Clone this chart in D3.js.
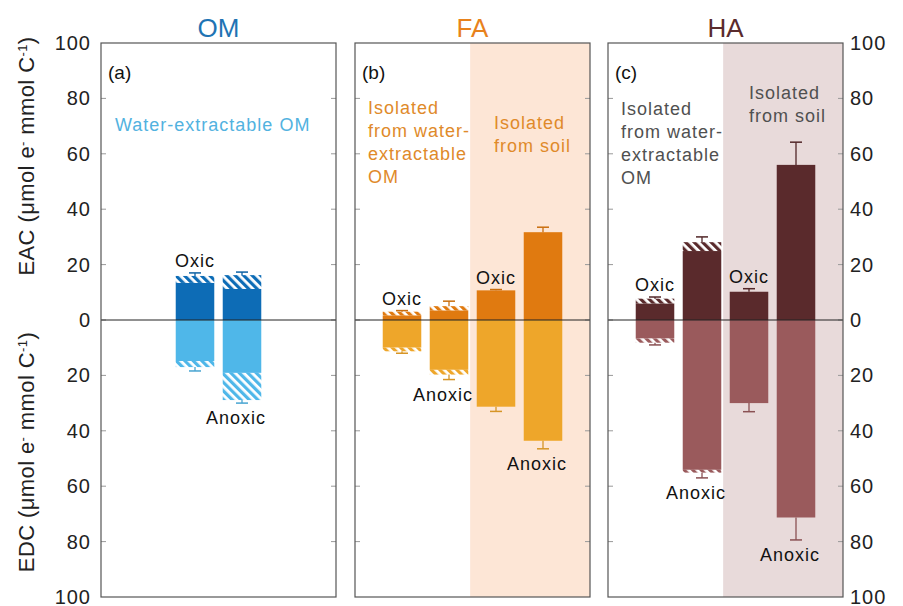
<!DOCTYPE html>
<html lang="en">
<head>
<meta charset="utf-8">
<title>EAC / EDC of OM, FA and HA</title>
<script src="https://d3js.org/d3.v7.min.js"></script>
<style>
  body { margin: 0; background: #fff; }
  text { font-family: "Liberation Sans", Arial, sans-serif; }
</style>
</head>
<body>
<script>
// DATA
var panelNames = ["OM", "FA", "HA"];
var panelTags = ["(a)", "(b)", "(c)"];
var yTicks = [-100, -80, -60, -40, -20, 0, 20, 40, 60, 80, 100];

// one entry per bar
var barPanel = [0, 0, 1, 1, 1, 1, 2, 2, 2, 2];
var barSlot  = [2, 3, 1, 2, 3, 4, 1, 2, 3, 4];
var barLabel = ["Oxic", "Anoxic", "Oxic", "Anoxic", "Oxic", "Anoxic", "Oxic", "Anoxic", "Oxic", "Anoxic"];
var eacTotal = [15.9, 16.2, 3.0, 5.0, 10.7, 31.7, 7.7, 28.1, 10.2, 56.0];
var eacSolid = [13.4, 11.2, 1.7, 3.5, 10.7, 31.7, 6.0, 24.9, 10.2, 56.0];
var eacErr   = [17.0, 17.3, 3.4, 6.8, 11.0, 33.5, 8.3, 30.0, 11.3, 64.2];
var edcTotal = [17.0, 28.9, 11.3, 19.7, 31.3, 43.6, 8.2, 55.1, 30.0, 71.3];
var edcSolid = [14.8, 19.1, 10.0, 18.0, 31.3, 43.6, 6.7, 54.1, 30.0, 71.3];
var edcErr   = [18.4, 30.0, 12.0, 21.5, 33.0, 46.5, 9.0, 57.0, 33.1, 79.4];

// COLOURS
var titleCol = ["#1f74b4", "#e8821c", "#5a2b2d"];
var eacCol   = ["#0d6cb6", "#e07a10", "#5a2a2c"];
var edcCol   = ["#4fb7e9", "#eea62a", "#9a5a5c"];
var noteCol  = ["#52b2df", "#e08a2a", "#505050"];
var shadeCol = [null, "#fde6d6", "#e8dada"];

// LAYOUT
var w = 903, h = 606;
var panelX = [101, 355, 608];
var panelW = 235;
var yTop = 43, yBot = 597;
var shadeStart = 2.45;

var svg = d3.select("body").append("svg")
  .attr("width", w)
  .attr("height", h);

var y = d3.scaleLinear().domain([-100, 100]).range([yBot, yTop]);

// hatch patterns
var defs = svg.append("defs");
function hatch(id, col) {
  var p = defs.append("pattern")
    .attr("id", id)
    .attr("patternUnits", "userSpaceOnUse")
    .attr("width", 6).attr("height", 6)
    .attr("patternTransform", "rotate(-45)");
  p.append("rect").attr("width", 6).attr("height", 6).attr("fill", "#fff");
  p.append("rect").attr("width", 3.2).attr("height", 6).attr("fill", col);
}
for (var k = 0; k < 3; k++) {
  hatch("hE" + k, eacCol[k]);
  hatch("hD" + k, edcCol[k]);
}

// PANELS
panelNames.forEach(function(name, p) {
  var x = d3.scaleLinear().domain([0, 5]).range([panelX[p], panelX[p] + panelW]);
  var g = svg.append("g");

  if (shadeCol[p]) {
    g.append("rect")
      .attr("x", x(shadeStart)).attr("y", yTop)
      .attr("width", x(5) - x(shadeStart)).attr("height", yBot - yTop)
      .attr("fill", shadeCol[p]);
  }

  // ticks inside both sides
  yTicks.slice(1, -1).forEach(function(t) {
    g.append("line")
      .attr("x1", x(0)).attr("x2", x(0) + 5)
      .attr("y1", y(t)).attr("y2", y(t))
      .attr("stroke", "#999");
    g.append("line")
      .attr("x1", x(5) - 5).attr("x2", x(5))
      .attr("y1", y(t)).attr("y2", y(t))
      .attr("stroke", "#999");
  });

  // title
  svg.append("text")
    .attr("x", x(2.5)).attr("y", 37)
    .attr("text-anchor", "middle")
    .attr("font-size", "26px")
    .attr("fill", titleCol[p])
    .text(name);

  svg.append("text")
    .attr("x", x(0) + 7).attr("y", 79)
    .attr("font-size", "19px")
    .attr("fill", "#111")
    .text(panelTags[p]);
});

// BARS
var bw = 0.82;
barPanel.forEach(function(p, i) {
  var x = d3.scaleLinear().domain([0, 5]).range([panelX[p], panelX[p] + panelW]);
  var x0 = x(barSlot[i] - bw / 2), x1 = x(barSlot[i] + bw / 2);
  var cx = x(barSlot[i]);
  var g = svg.append("g");

  // EAC (up)
  g.append("rect")
    .attr("x", x0).attr("width", x1 - x0)
    .attr("y", y(eacSolid[i])).attr("height", y(0) - y(eacSolid[i]))
    .attr("fill", eacCol[p]);
  if (eacTotal[i] > eacSolid[i]) {
    g.append("rect")
      .attr("x", x0).attr("width", x1 - x0)
      .attr("y", y(eacTotal[i])).attr("height", y(eacSolid[i]) - y(eacTotal[i]))
      .attr("fill", "url(#hE" + p + ")");
  }
  // EDC (down)
  g.append("rect")
    .attr("x", x0).attr("width", x1 - x0)
    .attr("y", y(0)).attr("height", y(-edcSolid[i]) - y(0))
    .attr("fill", edcCol[p]);
  if (edcTotal[i] > edcSolid[i]) {
    g.append("rect")
      .attr("x", x0).attr("width", x1 - x0)
      .attr("y", y(-edcSolid[i])).attr("height", y(-edcTotal[i]) - y(-edcSolid[i]))
      .attr("fill", "url(#hD" + p + ")");
  }

  // error bars
  [[eacTotal[i], eacErr[i], eacCol[p]], [-edcTotal[i], -edcErr[i], edcCol[p]]].forEach(function(e) {
    g.append("line")
      .attr("x1", cx).attr("x2", cx)
      .attr("y1", y(e[0])).attr("y2", y(e[1]))
      .attr("stroke", d3.color(e[2]).darker(0.3)).attr("stroke-width", 1.3);
    g.append("line")
      .attr("x1", cx - 6).attr("x2", cx + 6)
      .attr("y1", y(e[1])).attr("y2", y(e[1]))
      .attr("stroke", d3.color(e[2]).darker(0.3)).attr("stroke-width", 1.5);
  });

  // Oxic above, Anoxic below
  var up = barLabel[i] == "Oxic";
  g.append("text")
    .attr("x", up ? cx : cx - 6)
    .attr("y", up ? y(eacErr[i]) - 6 : y(-edcErr[i]) + 21)
    .attr("text-anchor", "middle")
    .attr("font-size", "18px")
    .attr("letter-spacing", "1px")
    .attr("fill", "#111")
    .text(barLabel[i]);
});

// zero lines and frames on top
panelX.forEach(function(px) {
  svg.append("line")
    .attr("x1", px).attr("x2", px + panelW)
    .attr("y1", y(0)).attr("y2", y(0))
    .attr("stroke", "#222").attr("stroke-width", 1);
  svg.append("rect")
    .attr("x", px).attr("y", yTop)
    .attr("width", panelW).attr("height", yBot - yTop)
    .attr("fill", "none")
    .attr("stroke", "#555").attr("stroke-width", 1.2);
});

// NOTES inside panels
function note(x, y0, lines, col) {
  var t = svg.append("text")
    .attr("x", x).attr("y", y0)
    .attr("font-size", "18px")
    .attr("letter-spacing", "1px")
    .attr("fill", col);
  lines.forEach(function(l, j) {
    t.append("tspan").attr("x", x).attr("dy", j ? 23 : 0).text(l);
  });
}
note(115, 131, ["Water-extractable OM"], noteCol[0]);
note(368, 114, ["Isolated", "from water-", "extractable", "OM"], noteCol[1]);
note(494, 129, ["Isolated", "from soil"], noteCol[1]);
note(621, 115, ["Isolated", "from water-", "extractable", "OM"], noteCol[2]);
note(749, 99, ["Isolated", "from soil"], noteCol[2]);

// AXIS LABELS (left and right)
var leftAxis = d3.axisLeft(y).tickValues(yTicks).tickSize(0).tickPadding(10)
  .tickFormat(function(d) { return Math.abs(d); });
var rightAxis = d3.axisRight(y).tickValues(yTicks).tickSize(0).tickPadding(7)
  .tickFormat(function(d) { return Math.abs(d); });

var la = svg.append("g").attr("transform", "translate(" + panelX[0] + ",0)").call(leftAxis);
var ra = svg.append("g").attr("transform", "translate(" + (panelX[2] + panelW) + ",0)").call(rightAxis);
[la, ra].forEach(function(a) {
  a.select(".domain").remove();
  a.selectAll("text")
    .attr("font-family", "Liberation Sans, Arial, sans-serif")
    .attr("font-size", "20px")
    .attr("letter-spacing", "1px")
    .attr("fill", "#222");
});

// y titles
function ytitle(cy, main) {
  var t = svg.append("text")
    .attr("transform", "translate(34," + cy + ") rotate(-90)")
    .attr("text-anchor", "middle")
    .attr("font-size", "22px")
    .attr("letter-spacing", "0.4px")
    .attr("fill", "#222");
  t.append("tspan").text(main + " (\u03bcmol e");
  t.append("tspan").attr("baseline-shift", "super").attr("font-size", "13px").text("-");
  t.append("tspan").text(" mmol C");
  t.append("tspan").attr("baseline-shift", "super").attr("font-size", "13px").text("-1");
  t.append("tspan").text(")");
}
ytitle(156, "EAC");
ytitle(452, "EDC");
</script>
</body>
</html>
